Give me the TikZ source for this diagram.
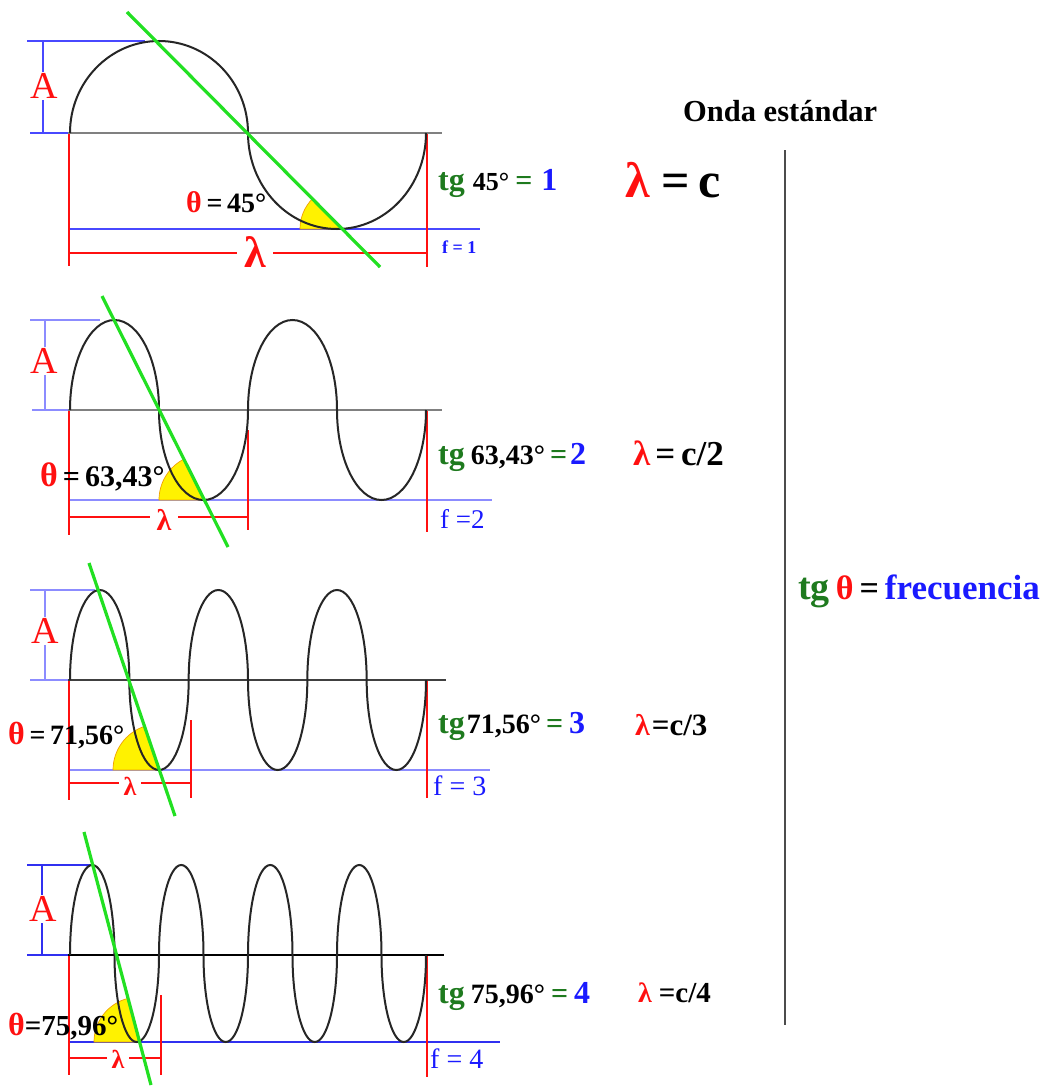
\documentclass[tikz,border=0pt]{standalone}
\usepackage{fontspec}
\setmainfont{Liberation Serif}
\definecolor{myred}{HTML}{FF1010}
\definecolor{blueA}{HTML}{4848FF}
\definecolor{blueB}{HTML}{8C8CFF}
\definecolor{blueD}{HTML}{3030F0}
\definecolor{txtblue}{HTML}{1A1AFF}
\definecolor{tggreen}{HTML}{1E7A1E}
\definecolor{lngreen}{HTML}{22E022}
\definecolor{wavec}{HTML}{262626}
\definecolor{wedgeo}{HTML}{F0A000}
\newcommand{\fsz}[1]{\fontsize{#1}{#1}\selectfont}
\tikzset{
  bluel/.style={line width=1.3pt},
  redl/.style={myred, line width=1.3pt},
  wavel/.style={wavec, line width=2pt},
  axisl/.style={line width=1.6pt},
  greenl/.style={lngreen, line width=3.2pt},
  wedgef/.style={fill=yellow, draw=wedgeo, line width=0.7pt},
  txt/.style={inner sep=0pt, anchor=base west, font=\bfseries},
  albl/.style={font=\fsz{38}\mdseries, text=myred, fill=white, inner sep=1pt},
  lamlbl/.style={inner ysep=0pt, inner xsep=7pt, fill=white, anchor=base, text=myred, font=\bfseries}
}
\begin{document}
\begin{tikzpicture}[x=1pt,y=-1pt]
\useasboundingbox[fill=white] (0,0) rectangle (1052,1089);

% ================= Panel 1 =================
\draw[bluel, blueA] (27,41) -- (145,41);
\draw[bluel, blueA] (30,133) -- (68,133);
\draw[bluel, blueA] (43,41) -- (43,133);
\draw[bluel, blueA] (69,229) -- (480,229);
\node[albl] (A1) at (44,86) {A};
\draw[redl] (69,133) -- (69,266);
\draw[redl] (427,133) -- (427,267);
\draw[redl] (69,253) -- (427,253);
\node[lamlbl, font=\bfseries\fsz{44}] (L1) at (255,267) {λ};
\coordinate (c1) at (343,229);
\draw[wedgef] (c1) -- ++(-43,0) arc[start angle=180, end angle=225, radius=43] -- cycle;
\draw[axisl, gray] (68,133) -- (442,133);
\draw[wavel] (70,133) arc[start angle=180,end angle=360,x radius=89,y radius=92]
                      arc[start angle=180,end angle=0,x radius=89,y radius=96];
\draw[greenl] (127,12) -- (380,267);
\node[txt] (th1) at (186,212) {{\color{myred}\fsz{30}θ}{\fsz{28}\,=\,45°}};
\node[txt] (tg1) at (438,190) {{\color{tggreen}\fsz{32}tg}\hspace{8pt}{\fsz{26}45°}\hspace{6pt}{\color{tggreen}\fsz{30}=}\hspace{9pt}{\color{txtblue}\fsz{32}1}};
\node[txt, text=txtblue] (f1) at (442,253) {\fsz{18}f = 1};
\node[txt] (lc1) at (625,197) {{\color{myred}\fsz{50}λ}\hspace{12pt}{\fsz{50}=\hspace{8pt}c}};

% ================= Panel 2 =================
\draw[bluel, blueB] (30,320) -- (100,320);
\draw[bluel, blueB] (32,410) -- (68,410);
\draw[bluel, blueB] (45,320) -- (45,410);
\draw[bluel, blueB] (69,500) -- (492,500);
\node[albl] (A2) at (44,361) {A};
\draw[redl] (69,410) -- (69,535);
\draw[redl] (248,430) -- (248,530);
\draw[redl] (427,410) -- (427,532);
\draw[redl] (69,517) -- (248,517);
\node[lamlbl, font=\bfseries\fsz{30}] (L2) at (164,530) {λ};
\coordinate (c2) at (205,500);
\draw[wedgef] (c2) -- ++(-46,0) arc[start angle=180, end angle=243.43, radius=46] -- cycle;
\draw[axisl, gray] (68,410) -- (442,410);
\draw[wavel] (70,410)
  \foreach \k in {1,2}{ arc[start angle=180,end angle=360,x radius=44.5,y radius=90]
                        arc[start angle=180,end angle=0,x radius=44.5,y radius=90] };
\draw[greenl] (102,296) -- (228,547);
\node[txt] (th2) at (40,486) {{\color{myred}\fsz{34}θ}{\fsz{30}\,=\,63,43°}};
\node[txt] (tg2) at (438,464) {{\color{tggreen}\fsz{32}tg}\hspace{6pt}{\fsz{28}63,43°}\hspace{5pt}{\color{tggreen}\fsz{30}=}\hspace{3pt}{\color{txtblue}\fsz{32}2}};
\node[txt, text=txtblue, font=\mdseries] (f2) at (440,528) {\fsz{27}f =2};
\node[txt] (lc2) at (633,465) {{\color{myred}\fsz{35}λ}\hspace{5pt}{\fsz{35}=\,c/2}};

% ================= Panel 3 =================
\draw[bluel, blueB] (30,590) -- (95,590);
\draw[bluel, blueB] (30,680) -- (68,680);
\draw[bluel, blueB] (45,590) -- (45,680);
\draw[bluel, blueB] (69,770) -- (490,770);
\node[albl] (A3) at (45,631) {A};
\draw[redl] (69,680) -- (69,800);
\draw[redl] (191,720) -- (191,798);
\draw[redl] (427,680) -- (427,798);
\draw[redl] (69,783) -- (191,783);
\node[lamlbl, font=\bfseries\fsz{26}, inner xsep=5pt] (L3) at (130,795) {λ};
\coordinate (c3) at (159,770);
\draw[wedgef] (c3) -- ++(-46,0) arc[start angle=180, end angle=251.56, radius=46] -- cycle;
\draw[axisl, black!75] (68,680) -- (446,680);
\draw[wavel] (70,680)
  \foreach \k in {1,2,3}{ arc[start angle=180,end angle=360,x radius=29.667,y radius=90]
                          arc[start angle=180,end angle=0,x radius=29.667,y radius=90] };
\draw[greenl] (89,563) -- (175,816);
\node[txt] (th3) at (8,744) {{\color{myred}\fsz{32}θ}{\fsz{28}\,=\,71,56°}};
\node[txt] (tg3) at (438,733) {{\color{tggreen}\fsz{32}tg}\hspace{2pt}{\fsz{28}71,56°}\hspace{5pt}{\color{tggreen}\fsz{30}=}\hspace{6pt}{\color{txtblue}\fsz{32}3}};
\node[txt, text=txtblue, font=\mdseries] (f3) at (433,795) {\fsz{28}f = 3};
\node[txt] (lc3) at (635,735) {{\color{myred}\fsz{30}λ}\hspace{2pt}{\fsz{31}=c/3}};

% ================= Panel 4 =================
\draw[bluel, blueD] (27,865) -- (92,865);
\draw[bluel, blueD] (27,955) -- (68,955);
\draw[bluel, blueD] (42,865) -- (42,955);
\draw[bluel, blueD] (69,1042) -- (500,1042);
\node[albl] (A4) at (43,909) {A};
\draw[redl] (69,955) -- (69,1075);
\draw[redl] (161,995) -- (161,1075);
\draw[redl] (427,955) -- (427,1077);
\draw[redl] (69,1058) -- (161,1058);
\node[lamlbl, font=\bfseries\fsz{26}, inner xsep=5pt] (L4) at (118,1068) {λ};
\coordinate (c4) at (139,1042);
\draw[wedgef] (c4) -- ++(-45,0) arc[start angle=180, end angle=255.96, radius=45] -- cycle;
\draw[axisl, black] (68,955) -- (444,955);
\draw[wavel] (70,955)
  \foreach \k in {1,2,3,4}{ arc[start angle=180,end angle=360,x radius=22.25,y radius=90]
                            arc[start angle=180,end angle=0,x radius=22.25,y radius=87] };
\draw[greenl] (84,832) -- (151,1085);
\node[txt] (th4) at (8,1035) {{\color{myred}\fsz{32}θ}{\fsz{29}=75,96°}};
\node[txt] (tg4) at (438,1003) {{\color{tggreen}\fsz{32}tg}\hspace{6pt}{\fsz{28}75,96°}\hspace{6pt}{\color{tggreen}\fsz{30}=}\hspace{6pt}{\color{txtblue}\fsz{32}4}};
\node[txt, text=txtblue, font=\mdseries] (f4) at (430,1068) {\fsz{28}f = 4};
\node[txt] (lc4) at (638,1002) {{\color{myred}\fsz{28}λ}\hspace{7pt}{\fsz{29}=c/4}};

% ================= Right side =================
\node[txt] (onda) at (683,122) {\fsz{30.5}Onda estándar};
\draw[line width=1.6pt, black!70] (785,150) -- (785,1025);
\node[txt] (freq) at (798,599) {{\color{tggreen}\fsz{38}tg}\hspace{6pt}{\color{myred}\fsz{34}θ}\hspace{6pt}{\fsz{34}=}\hspace{6pt}{\color{txtblue}\fsz{35}frecuencia}};
\end{tikzpicture}
\end{document}
